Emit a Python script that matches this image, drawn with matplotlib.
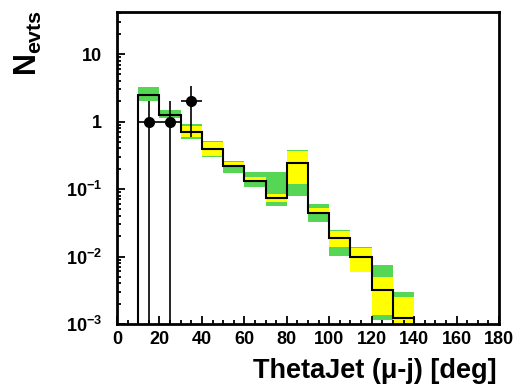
import numpy as np
import matplotlib
matplotlib.use('Agg')
import matplotlib.pyplot as plt
from matplotlib.ticker import FixedLocator, FixedFormatter, LogLocator, MultipleLocator, NullFormatter

plt.rcParams['font.family'] = ['Liberation Sans', 'DejaVu Sans']
plt.rcParams['font.weight'] = 'bold'
plt.rcParams['mathtext.fontset'] = 'custom'
plt.rcParams['mathtext.rm'] = 'Liberation Sans:bold'
plt.rcParams['mathtext.bf'] = 'Liberation Sans:bold'
plt.rcParams['mathtext.it'] = 'Liberation Sans:bold'

# bins of ThetaJet (deg)
edges = [10, 20, 30, 40, 50, 60, 70, 80, 90, 100, 110, 120, 130, 140]
# expectation (black histogram)
expected = [2.45, 1.27, 0.71, 0.39, 0.22, 0.13, 0.073, 0.245, 0.044, 0.019, 0.0097, 0.0032, 0.00123]
# green band
green_lo = [2.0, 1.11, 0.56, 0.30, 0.17, 0.107, 0.056, 0.079, 0.032, 0.0103, 0.0058, 0.00115, 0.0007]
green_hi = [3.2, 1.46, 0.93, 0.52, 0.26, 0.18, 0.18, 0.38, 0.060, 0.025, 0.014, 0.0074, 0.0030]
# yellow band
yellow_lo = [2.45, 1.32, 0.60, 0.31, 0.22, 0.137, 0.064, 0.119, 0.045, 0.014, 0.0058, 0.00135, 0.0007]
yellow_hi = [2.60, 1.36, 0.87, 0.50, 0.255, 0.15, 0.084, 0.37, 0.052, 0.024, 0.0136, 0.0050, 0.0025]
# data
data_x = [15, 25, 35]
data_y = [1, 1, 2]

edges = np.array(edges)
left = edges[:-1]
width = np.diff(edges)
green_lo, green_hi = np.array(green_lo), np.array(green_hi)
yellow_lo, yellow_hi = np.array(yellow_lo), np.array(yellow_hi)
data_y = np.array(data_y, dtype=float)

fig = plt.figure(figsize=(5.18, 3.90), dpi=100)
ax = fig.add_axes([117/518, 1 - 324/390, (499-117)/518, (324-12)/390])
ax.set_yscale('log')

ax.bar(left, green_hi - green_lo, bottom=green_lo, width=width, align='edge', color='#55d655', lw=0)
ax.bar(left, yellow_hi - yellow_lo, bottom=yellow_lo, width=width, align='edge', color='#ffff00', lw=0)
ax.stairs(expected, edges, baseline=1e-6, color='black', lw=1.5)

err = np.sqrt(data_y)
ax.errorbar(data_x, data_y, yerr=[np.minimum(err, data_y * 0.99999), err], xerr=5,
            fmt='o', color='black', ms=7, lw=1.2, capsize=0)

ax.set_xlim(0, 180)
ax.set_ylim(1e-3, 42)

ax.xaxis.set_major_locator(MultipleLocator(20))
ax.xaxis.set_minor_locator(MultipleLocator(5))
ax.yaxis.set_major_locator(FixedLocator([1e-3, 1e-2, 1e-1, 1, 10]))
ax.yaxis.set_major_formatter(FixedFormatter([r'$10^{-3}$', r'$10^{-2}$', r'$10^{-1}$', '1', '10']))
ax.yaxis.set_minor_locator(LogLocator(base=10, subs=np.arange(2, 10)))
ax.yaxis.set_minor_formatter(NullFormatter())

ax.tick_params(which='both', direction='in', top=False, right=False, width=1.3, labelsize=13)
ax.tick_params(axis='x', which='major', length=6, pad=5)
ax.tick_params(axis='x', which='minor', length=3)
ax.tick_params(axis='y', which='major', length=6, pad=11)
ax.tick_params(axis='y', which='minor', length=3)
for s in ax.spines.values():
    s.set_linewidth(2)

fig.text(497/518, 1 - 371/390, 'ThetaJet (\u03bc-j) [deg]', ha='right', va='center',
         fontsize=19.5, fontweight='bold')
fig.text(28/518, 1 - 10/390, r'$N_{evts}$', ha='center', va='top', rotation=90, fontsize=22)

fig.savefig('out.png', dpi=100)
